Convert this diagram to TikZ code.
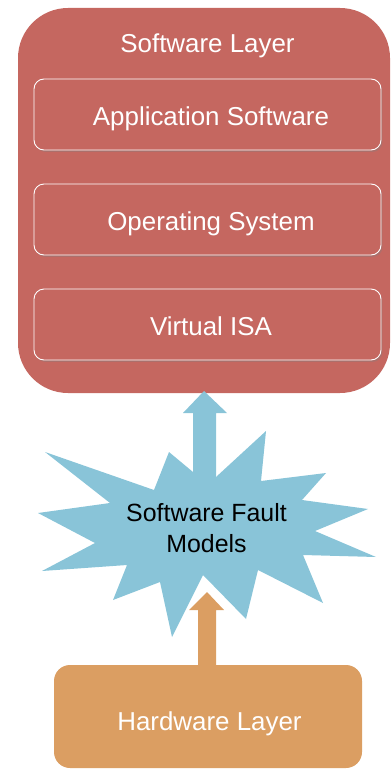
\documentclass[tikz,border=0pt]{standalone}
\usepackage{fontspec}
\setmainfont{Liberation Sans}
\usetikzlibrary{shadows}
\definecolor{swred}{HTML}{C56760}
\definecolor{fltblue}{HTML}{89C4D8}
\definecolor{hworange}{HTML}{DB9E62}
\tikzset{
  wtext/.style={text=white,font=\fontsize{26}{30}\selectfont,inner sep=0pt,anchor=base},
  subbox/.style={draw=white,line width=0.9pt,fill=swred,rounded corners=10bp,
    drop shadow={opacity=0.35,shadow xshift=1.5pt,shadow yshift=-2pt}},
}
\begin{document}
\begin{tikzpicture}[x=1bp,y=-1bp]
\useasboundingbox (0,0) rectangle (391,769);
% software layer
\fill[swred,rounded corners=50bp] (18,8) rectangle (390,393);
\node[wtext] (swl) at (207.5,53) {Software Layer};
\draw[subbox] (34,79) rectangle (381,150);
\draw[subbox] (34,184) rectangle (381,255);
\draw[subbox] (34,289) rectangle (381,360);
\node[wtext] (app) at (211,125) {Application Software};
\node[wtext] (os) at (211,230) {Operating System};
\node[wtext] (isa) at (211,335) {Virtual ISA};
% star
\fill[fltblue] (38,513) -- (110,503) -- (45,452) -- (154,490) -- (169,452) -- (193,472)
  -- (216,477) -- (266,431) -- (261,481) -- (326,473) -- (302,500) -- (368,509)
  -- (315,531) -- (376,557) -- (303,555) -- (323,603) -- (258,570) -- (246,619)
  -- (203,575) -- (172,637) -- (160,582) -- (113,600) -- (127,565) -- (42,571)
  -- (95,543) -- cycle;
% blue arrow
\fill[fltblue] (193,485) -- (193,413) -- (183,413) -- (204,391) -- (227,413) -- (216,413) -- (216,485) -- cycle;
\node[text=black,font=\fontsize{25}{31}\selectfont,align=center,inner sep=0pt] (sfm) at (206.5,528) {Software Fault\\Models};
% hardware layer
\fill[hworange,rounded corners=16bp] (54,665) rectangle (362,768);
\fill[hworange] (198,667) -- (198,610) -- (189,610) -- (207,592) -- (224,610) -- (216,610) -- (216,667) -- cycle;
\node[wtext] (hwl) at (209.5,730) {Hardware Layer};
\end{tikzpicture}
\end{document}
